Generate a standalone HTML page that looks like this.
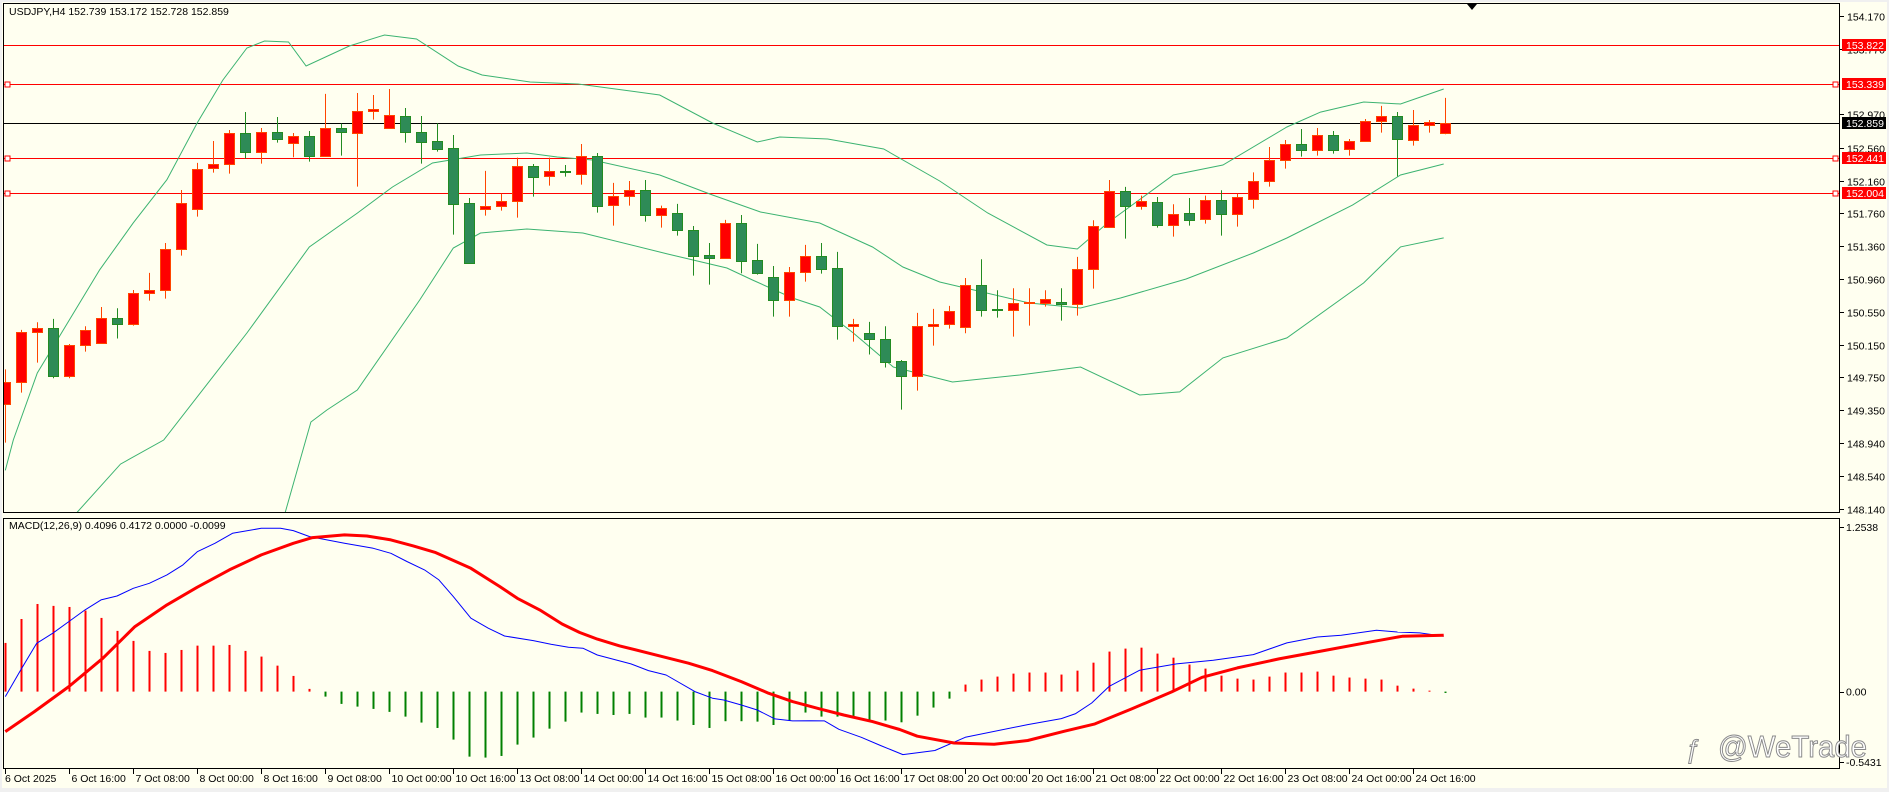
<!DOCTYPE html>
<html><head><meta charset="utf-8"><style>
html,body{margin:0;padding:0;background:#f0f0f0;}
svg{display:block;font-family:"Liberation Sans",sans-serif;}
</style></head><body>
<svg id="chart" width="1889" height="792" viewBox="0 0 1889 792" xmlns="http://www.w3.org/2000/svg">
<rect x="0" y="0" width="1889" height="792" fill="#f0f0f0"/>
<rect x="2" y="2" width="1885" height="786" fill="#fffff0"/>
<defs>
<clipPath id="mainClip"><rect x="4" y="4" width="1835" height="508"/></clipPath>
<clipPath id="macdClip"><rect x="4" y="519" width="1835" height="250"/></clipPath>
</defs>
<g id="mainG" clip-path="url(#mainClip)"></g>
<g id="macdG" clip-path="url(#macdClip)"></g>
<g id="axisG"></g>
<rect x="3.5" y="3.5" width="1836" height="509" fill="none" stroke="#000" stroke-width="1"/>
<rect x="3.5" y="518.5" width="1836" height="250" fill="none" stroke="#000" stroke-width="1"/>
<text x="9" y="15" font-size="10.5" fill="#000">USDJPY,H4  152.739 153.172 152.728 152.859</text>
<text x="9" y="529" font-size="10.5" fill="#000">MACD(12,26,9) 0.4096 0.4172 0.0000 -0.0099</text>
<polygon points="1467,4 1477,4 1472,10" fill="#000"/>
<g>
<text x="1685" y="758" font-size="26" fill="#fff" stroke="#8a8a8a" stroke-width="1" font-style="italic">ƒ</text>
<text x="1718" y="757" font-size="31" textLength="149" lengthAdjust="spacingAndGlyphs" fill="#fff" stroke="#8a8a8a" stroke-width="1">@WeTrade</text>
</g>
</svg>
<script>
// ---- price data ----
const opens=[149.425,149.690,150.302,150.351,149.763,150.143,150.167,150.474,150.400,150.780,150.816,151.318,151.808,152.310,152.359,152.743,152.506,152.751,152.616,152.702,152.465,152.800,152.739,153.008,152.800,152.951,152.751,152.641,152.555,151.882,151.808,151.845,151.906,152.335,152.212,152.278,152.237,152.457,151.857,151.968,152.041,151.735,151.759,151.551,151.245,151.208,151.637,151.184,150.976,150.694,151.037,151.233,151.086,150.384,150.290,150.216,149.947,149.763,150.376,150.400,150.363,150.882,150.584,150.572,150.661,150.665,150.673,150.645,151.074,151.596,152.029,151.845,151.894,151.612,151.759,151.686,151.919,151.755,151.931,152.151,152.408,152.604,152.531,152.714,152.543,152.649,152.886,152.951,152.661,152.837,152.739];
const highs=[149.848,150.331,150.425,150.466,150.159,150.376,150.612,150.596,150.820,151.029,151.396,152.045,152.376,152.645,152.780,153.000,152.804,152.939,152.743,152.767,153.221,152.857,153.233,153.208,153.282,153.049,152.951,152.861,152.718,151.947,152.278,152.000,152.441,152.363,152.441,152.351,152.608,152.498,152.131,152.155,152.167,151.853,151.874,151.604,151.396,151.678,151.739,151.384,151.114,151.102,151.372,151.396,151.286,150.466,150.429,150.376,149.963,150.539,150.588,150.625,150.967,151.196,150.816,150.841,150.841,150.816,150.841,151.225,151.674,152.167,152.082,151.976,151.959,151.870,151.947,151.976,152.041,152.000,152.261,152.571,152.657,152.792,152.804,152.767,152.669,152.914,153.074,153.000,153.025,152.902,153.172];
const lows=[148.950,149.563,149.931,149.739,149.739,150.065,150.160,150.225,150.384,150.690,150.714,151.241,151.719,152.257,152.245,152.429,152.368,152.625,152.445,152.392,152.460,152.465,152.086,152.906,152.800,152.625,152.368,152.514,151.498,151.143,151.731,151.792,151.706,151.963,152.098,152.208,152.110,151.768,151.608,151.853,151.657,151.584,151.486,150.996,150.886,151.208,151.025,151.008,150.494,150.494,150.923,151.021,150.212,150.188,150.029,149.870,149.355,149.588,150.139,150.347,150.290,150.494,150.482,150.249,150.384,150.616,150.445,150.506,150.837,151.588,151.449,151.804,151.584,151.474,151.608,151.633,151.486,151.596,151.816,152.086,152.306,152.453,152.465,152.490,152.465,152.637,152.747,152.212,152.588,152.747,152.728];
const closes=[149.690,150.302,150.351,149.772,150.143,150.327,150.474,150.400,150.780,150.816,151.318,151.882,152.298,152.359,152.739,152.506,152.751,152.674,152.702,152.465,152.800,152.751,153.008,153.033,152.963,152.751,152.637,152.551,151.878,151.155,151.845,151.906,152.335,152.208,152.274,152.261,152.465,151.845,151.968,152.041,151.735,151.821,151.551,151.241,151.208,151.637,151.180,151.025,150.694,151.037,151.233,151.082,150.384,150.400,150.216,149.943,149.763,150.376,150.400,150.559,150.882,150.580,150.572,150.657,150.673,150.706,150.645,151.074,151.604,152.029,151.845,151.906,151.620,151.747,151.682,151.919,151.755,151.955,152.151,152.408,152.604,152.531,152.714,152.539,152.641,152.886,152.947,152.674,152.837,152.874,152.859];
// Bollinger bands (sampled at candle index positions)
const upperIdx=[0,0.5,2,5.9,8,10.1,12,13.6,15.1,16.2,17.7,18.8,21.5,23.7,25.7,28.3,29.8,32.8,35.8,40.9,44.2,47,48.4,51.4,54.9,58.4,61.4,65.1,67,68.9,73,76.1,80.1,82.2,84.9,87.2,89.9];
const upperVal=[148.61,148.983,149.803,151.067,151.643,152.170,152.868,153.392,153.784,153.869,153.857,153.563,153.808,153.943,153.894,153.563,153.453,153.367,153.343,153.208,152.865,152.632,152.694,152.669,152.547,152.155,151.763,151.371,151.322,151.641,152.228,152.351,152.816,152.999,153.122,153.098,153.281];
const middleIdx=[0,4.5,7.2,9.9,15.1,19,22,24.2,26.7,29.7,32.6,34.5,36.7,40.9,44.2,47.2,50.9,54.2,56.1,58.4,64,67.2,69.7,73.8,78,80.1,84.2,87.2,89.9];
const middleVal=[147.40,148.099,148.687,148.983,150.293,151.346,151.762,152.081,152.375,152.473,152.498,152.449,152.412,152.228,151.983,151.775,151.640,151.346,151.101,150.918,150.660,150.599,150.722,150.955,151.273,151.456,151.860,152.228,152.363];
const lowerIdx=[12,17.5,19.1,20.1,22,25.9,28,29.7,32.6,36.1,41.4,45.1,46.7,49.2,50.9,53,55.5,59.2,63.4,67.2,70.9,73.4,76.1,80.1,84.9,87.2,89.9];
const lowerVal=[147.00,148.099,149.203,149.350,149.595,150.697,151.334,151.518,151.567,151.518,151.261,151.089,150.942,150.722,150.612,150.293,149.877,149.693,149.779,149.877,149.534,149.572,149.988,150.233,150.907,151.348,151.458];
// horizontal levels
const redLevels=[153.822,153.339,152.441,152.004];
const redMarkers=[false,true,true,true];
const lastPrice=152.859;
const priceTicks=["154.170","153.770","152.970","152.560","152.160","151.760","151.360","150.960","150.550","150.150","149.750","149.350","148.940","148.540","148.140"];
// MACD
const histVals=[0.36,0.537,0.648,0.634,0.626,0.599,0.545,0.449,0.375,0.301,0.286,0.308,0.340,0.340,0.345,0.301,0.259,0.192,0.116,0.020,-0.037,-0.091,-0.111,-0.128,-0.150,-0.185,-0.229,-0.269,-0.355,-0.481,-0.488,-0.476,-0.392,-0.340,-0.274,-0.222,-0.155,-0.165,-0.173,-0.165,-0.192,-0.192,-0.214,-0.247,-0.269,-0.219,-0.219,-0.222,-0.247,-0.214,-0.155,-0.185,-0.185,-0.185,-0.217,-0.214,-0.227,-0.178,-0.118,-0.052,0.052,0.089,0.111,0.133,0.141,0.141,0.126,0.155,0.214,0.296,0.318,0.325,0.281,0.251,0.200,0.170,0.118,0.096,0.089,0.111,0.141,0.141,0.148,0.118,0.104,0.096,0.089,0.044,0.022,0.007,-0.0099];
const macdIdx=[0,0.96,1.96,2.97,3.97,4.98,5.98,6.98,8,9,10.1,11.1,12,13.1,14.2,16,17.2,18,19,21.2,23,24.1,25.1,26.2,27.1,28,29.1,30.2,31.2,33,34.1,35.2,36.1,37,39.1,40.2,41.3,43.1,44.2,44.9,46,47,48.1,49.2,50.3,51.2,52.1,53.5,54.7,56.1,58.1,60,63.9,66,66.9,67.9,69,70.9,73.2,75.5,78,80.1,82,83.5,85.7,87,88.4,89.9];
const macdVal=[-0.037,0.160,0.357,0.432,0.518,0.604,0.678,0.707,0.764,0.801,0.863,0.937,1.035,1.097,1.171,1.208,1.208,1.191,1.147,1.097,1.060,1.023,0.962,0.900,0.826,0.703,0.543,0.468,0.411,0.377,0.350,0.328,0.321,0.271,0.205,0.155,0.123,0.000,-0.049,-0.062,-0.099,-0.136,-0.202,-0.217,-0.215,-0.217,-0.279,-0.338,-0.399,-0.466,-0.436,-0.338,-0.244,-0.200,-0.163,-0.084,0.039,0.158,0.205,0.232,0.274,0.360,0.404,0.417,0.454,0.441,0.434,0.4096];
const signalIdx=[0,1.82,3.97,6.1,8.1,10.1,12,14,16,18,19.2,21.2,22.6,24.1,25.5,26.9,29.1,30.9,32,33.4,34.8,35.9,37,38.4,40.9,42.7,44.2,46,47.7,49.2,51,52.4,54.2,55.9,57,59.3,61.8,63.9,66.2,68.1,70.4,72.9,74.8,77,79.6,82.4,85.2,87.3,89.9];
const signalVal=[-0.296,-0.148,0.037,0.247,0.481,0.641,0.772,0.900,1.011,1.097,1.139,1.159,1.151,1.122,1.078,1.028,0.912,0.777,0.690,0.604,0.500,0.437,0.388,0.338,0.264,0.210,0.155,0.074,-0.012,-0.074,-0.131,-0.173,-0.222,-0.280,-0.330,-0.380,-0.390,-0.362,-0.293,-0.239,-0.128,-0.002,0.106,0.175,0.242,0.303,0.365,0.409,0.4172];
const macdTicks=["1.2538","0.00","-0.5431"];
const macdTickVals=[1.2538,0,-0.5431];
const timeLabels=["6 Oct 2025","6 Oct 16:00","7 Oct 08:00","8 Oct 00:00","8 Oct 16:00","9 Oct 08:00","10 Oct 00:00","10 Oct 16:00","13 Oct 08:00","14 Oct 00:00","14 Oct 16:00","15 Oct 08:00","16 Oct 00:00","16 Oct 16:00","17 Oct 08:00","20 Oct 00:00","20 Oct 16:00","21 Oct 08:00","22 Oct 00:00","22 Oct 16:00","23 Oct 08:00","24 Oct 00:00","24 Oct 16:00"];

// ---- axes ----
const NS="http://www.w3.org/2000/svg";
const xOf=i=>5.3+16*i;
const yP=p=>84.3+(153.339-p)*81.65;
const yM=v=>691.6-v*135.2;
function mk(tag,attrs,parent){const e=document.createElementNS(NS,tag);for(const k in attrs)e.setAttribute(k,attrs[k]);parent.appendChild(e);return e;}
const mainG=document.getElementById('mainG'),macdG=document.getElementById('macdG'),axisG=document.getElementById('axisG');

// levels
redLevels.forEach((p,k)=>{
  const y=Math.round(yP(p))+0.5;
  const l=mk('line',{x1:4,x2:1839,y1:y,y2:y,stroke:'#ff0000','stroke-width':1},mainG);
  
  
  if(redMarkers[k]){
    const a=mk('rect',{x:5,y:y-2.5,width:5,height:5,fill:'#fff',stroke:'#ff0000'},mainG);
    
    
    const b=mk('rect',{x:1833,y:y-2.5,width:5,height:5,fill:'#fff',stroke:'#ff0000'},mainG);
    
    
  }
});
{const y=Math.round(yP(lastPrice))+0.5;
 const l=mk('line',{x1:4,x2:1839,y1:y,y2:y,stroke:'#000','stroke-width':1},mainG);
 
 }

// bands
function band(idx,val,name){
  const pts=idx.map((t,k)=>xOf(t).toFixed(1)+','+yP(val[k]).toFixed(1)).join(' ');
  const pl=mk('polyline',{points:pts,fill:'none',stroke:'#3cb371','stroke-width':1},mainG);
  
  
}
band(upperIdx,upperVal,'bollinger-upper');
band(middleIdx,middleVal,'bollinger-middle');
band(lowerIdx,lowerVal,'bollinger-lower');

// candles
opens.forEach((o,i)=>{
  const c=closes[i],h=highs[i],l=lows[i];
  const up=c>=o;
  const x=Math.round(xOf(i));
  const g=mk('g',{},mainG);
  
  
  const wc=up?'#ff4500':'#228b22';
  mk('line',{x1:x+0.5,x2:x+0.5,y1:yP(h),y2:yP(l),stroke:wc,'stroke-width':1},g);
  const t=Math.round(yP(Math.max(o,c))),b=Math.round(yP(Math.min(o,c)));
  mk('rect',{x:x-5+0.5,y:t+0.5,width:10,height:Math.max(1,b-t),fill:up?'#ff0000':'#2e8b57',stroke:up?'#ff4500':'#228b22','stroke-width':1},g);
});

// macd histogram
histVals.forEach((v,i)=>{
  const x=Math.round(xOf(i))+0.5;
  const y0=yM(0),y1=yM(v);
  const r=mk('rect',{x:x-1,y:Math.min(y0,y1),width:2,height:Math.max(1,Math.abs(y1-y0)),fill:v>=0?'#ff0000':'#008000'},macdG);
  
  
});
function mline(idx,val,color,w,name){
  const pts=idx.map((t,k)=>xOf(t).toFixed(1)+','+yM(val[k]).toFixed(1)).join(' ');
  const pl=mk('polyline',{points:pts,fill:'none',stroke:color,'stroke-width':w,'stroke-linejoin':'round'},macdG);
  
  
}
mline(macdIdx,macdVal,'#0000ff',1,'macd-main-line');
mline(signalIdx,signalVal,'#ff0000',3,'macd-signal-line');

// price axis
priceTicks.forEach(s=>{
  const y=Math.round(yP(parseFloat(s)))+0.5;
  mk('line',{x1:1840,x2:1844,y1:y,y2:y,stroke:'#000'},axisG);
  const t=mk('text',{x:1847,y:y+4,'font-size':10.5,fill:'#000'},axisG);
  t.textContent=s;
  
  
});
function tag(p,bg,name){
  const y=Math.round(yP(p));
  const r=mk('rect',{x:1842,y:y-6,width:44,height:12,fill:bg},axisG);
  
  
  const t=mk('text',{x:1846,y:y+4,'font-size':10.5,fill:'#fff'},axisG);
  t.textContent=p.toFixed(3);
  
  
}
redLevels.forEach(p=>tag(p,'#ff0000','level-price-tag'));
tag(lastPrice,'#000','bid-price-tag');

// macd axis
macdTicks.forEach((s,k)=>{
  let y=yM(macdTickVals[k]);
  if(k===0)y=527; if(k===2)y=762;
  mk('line',{x1:1840,x2:1844,y1:Math.round(y)+0.5,y2:Math.round(y)+0.5,stroke:'#000'},axisG);
  const t=mk('text',{x:1846,y:y+4,'font-size':10.5,fill:'#000'},axisG);
  t.textContent=s;
  
  
});

// time axis
timeLabels.forEach((s,k)=>{
  const x=Math.round(xOf(4*k))+0.5;
  mk('line',{x1:x,x2:x,y1:769,y2:774,stroke:'#000'},axisG);
  const t=mk('text',{x:k===0?5:x+2,y:782,'font-size':10.5,fill:'#000'},axisG);
  t.textContent=s;
  
  
});
</script>
</body></html>
